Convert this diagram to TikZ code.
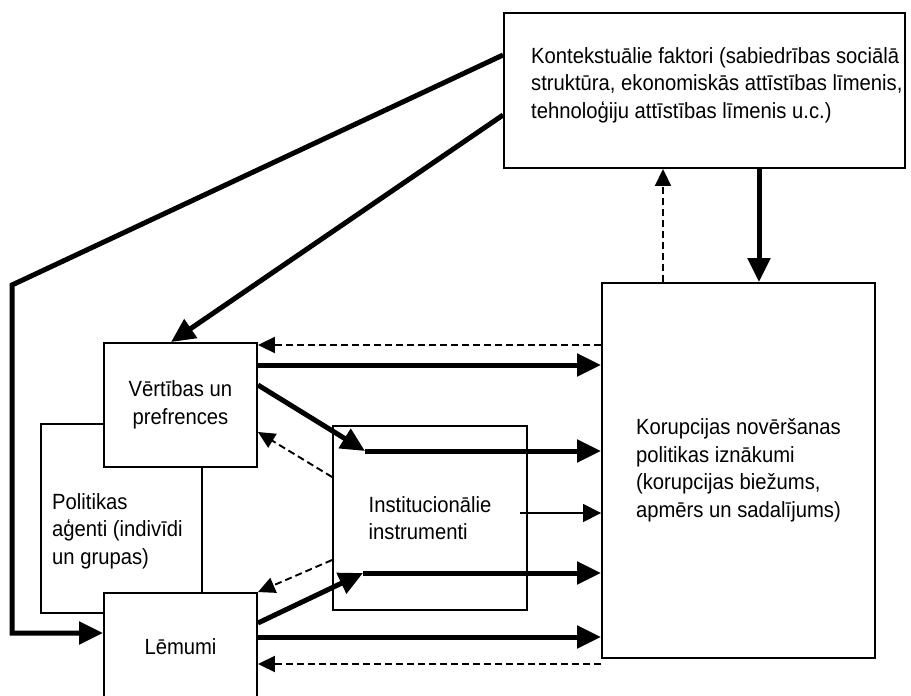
\documentclass[tikz,border=0pt]{standalone}
\usepackage{fontspec}
\setmainfont{Liberation Sans}[FakeStretch=0.92]
\usepackage{tikz}
\usetikzlibrary{positioning,arrows.meta}

\begin{document}
\begin{tikzpicture}[x=1pt,y=1pt,yscale=-1,
  font=\fontsize{22}{27.5}\selectfont,
  box/.style={draw,line width=1.9pt,fill=white,inner sep=0pt,align=center},
  boldarrow/.style={line width=5pt,-{Triangle[length=24pt,width=22pt]}},
  dasharrow/.style={line width=1.9pt,dash pattern=on 7pt off 4pt,-{Triangle[length=17pt,width=16pt]}},
  thinarrow/.style={line width=1.5pt,-{Triangle[length=18pt,width=18pt]}}]
\useasboundingbox (0,0) rectangle (911,696);

%Shape: Context box
\node[box,minimum width=401pt,minimum height=155pt] (context) at (704.5,90.5) {};
% Text Node
\node[anchor=west,inner sep=0pt,align=left] (contextlabel) at (531,85) {Kontekstuālie faktori (sabiedrības sociālā\\struktūra, ekonomiskās attīstības līmenis,\\tehnoloģiju attīstības līmenis u.c.)};

%Shape: Agents box (behind)
\node[box,minimum width=161pt,minimum height=189pt] (agents) at (121.5,518.5) {};
% Text Node
\node[anchor=west,inner sep=0pt,align=left] (agentslabel) at (52,531) {Politikas\\aģenti (indivīdi\\un grupas)};

%Shape: Values and decisions
\node[box,minimum width=153pt,minimum height=124pt] (values) at (180.5,405) {Vērtības un\\prefrences};
\node[box,minimum width=153pt,minimum height=108pt] (decisions) at (180.5,647) {Lēmumi};

%Shape: Institutions
\node[box,minimum width=194pt,minimum height=184pt,align=left] (institutions) at (430,518) {Institucionālie\\instrumenti};

%Shape: Outcomes
\node[box,minimum width=273pt,minimum height=375pt,align=left] (outcomes) at (738.5,470.5) {Korupcijas novēršanas\\politikas iznākumi\\(korupcijas biežums,\\apmērs un sadalījums)};

% bends and arrow meeting points
\coordinate (loopbend) at (12,285);
\coordinate (loopfoot) at (12,633);
\coordinate (instup) at (365,451);
\coordinate (instlow) at (363,573);
\coordinate (thinstart) at (520,513);

% context -> agents
\draw[boldarrow] (context.west |- 0,55) -- (loopbend) -- (loopfoot) -- (decisions.west |- loopfoot);
\draw[boldarrow] (context.west |- 0,115) -- (values.north -| 171,0);
% context <-> outcomes
\draw[boldarrow] (context.south -| 759,0) -- (outcomes.north -| 759,0);
\draw[dasharrow] (outcomes.north -| 663,0) -- (context.south -| 663,0);

% values
\draw[dasharrow] (outcomes.west |- 0,345) -- (values.east |- 0,345);
\draw[boldarrow] (values.east |- 0,365) -- (outcomes.west |- 0,365);
\draw[boldarrow] (values.east |- 0,385) -- (instup);
\draw[boldarrow] (instup) -- (outcomes.west |- instup);
\draw[dasharrow] (institutions.west |- 0,477) -- (values.east |- 0,432);

% institutions
\draw[thinarrow] (thinstart) -- (outcomes.west |- thinstart);

% decisions
\draw[dasharrow] (institutions.west |- 0,560) -- (decisions.north east);
\draw[boldarrow] (decisions.east |- 0,623) -- (instlow);
\draw[boldarrow] (instlow) -- (outcomes.west |- instlow);
\draw[boldarrow] (decisions.east |- 0,637) -- (outcomes.west |- 0,637);
\draw[dasharrow] (outcomes.west |- 0,664) -- (decisions.east |- 0,664);
\end{tikzpicture}
\end{document}
